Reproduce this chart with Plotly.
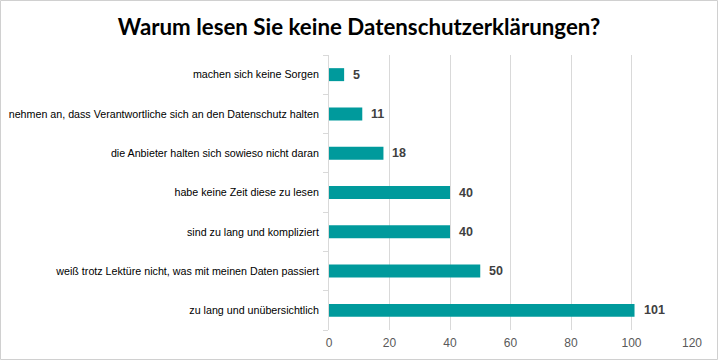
import plotly.graph_objects as go

categories = [
    "zu lang und unübersichtlich",
    "weiß trotz Lektüre nicht, was mit meinen Daten passiert",
    "sind zu lang und kompliziert",
    "habe keine Zeit diese zu lesen",
    "die Anbieter halten sich sowieso nicht daran",
    "nehmen an, dass Verantwortliche sich an den Datenschutz halten",
    "machen sich keine Sorgen",
]
values = [101, 50, 40, 40, 18, 11, 5]
x_ticks = [0, 20, 40, 60, 80, 100, 120]

positions = list(range(len(categories)))

L, R, T, B = 329, 26, 55, 30
W, H = 718, 360
PW, PH = W - L - R, H - T - B

fig = go.Figure()
fig.add_trace(go.Bar(
    x=values, y=positions, orientation="h",
    marker=dict(color="#009a9c", line=dict(width=0)),
    width=0.33,
    hoverinfo="skip",
))

for v, p in zip(values, positions):
    fig.add_annotation(
        x=v, y=p, xref="x", yref="y", text=f"<b>{v}</b>", showarrow=False,
        xanchor="left", yanchor="middle", xshift=7,
        font=dict(family="Liberation Sans, Arial", size=12.5, color="#404040"),
    )

fig.update_layout(
    width=W, height=H,
    margin=dict(l=L, r=R, t=T, b=B, autoexpand=False),
    paper_bgcolor="white", plot_bgcolor="white",
    showlegend=False,
    title=dict(
        text="<b>Warum lesen Sie keine Datenschutzerklärungen?</b>",
        x=0.5, xanchor="center", xref="container",
        yref="container", y=1 - 27 / H, yanchor="middle",
        font=dict(family="Lato, Open Sans", size=22.3, color="#000000"),
    ),
    xaxis=dict(
        range=[0, 120], tickvals=x_ticks, showgrid=True, gridcolor="#d9d9d9", gridwidth=1,
        zeroline=False, showline=False, ticks="", automargin=False, ticklabelstandoff=4,
        tickfont=dict(family="Liberation Sans, Arial", size=12, color="#595959"),
    ),
    yaxis=dict(
        range=[-0.5, 6.5], tickvals=positions, ticktext=categories, automargin=False,
        showgrid=False, zeroline=False, showline=True, linecolor="#d9d9d9", linewidth=1,
        ticks="", ticklen=0, ticklabelstandoff=7,
        minor=dict(ticks="outside", tick0=0.5, dtick=1, ticklen=5, tickcolor="#d9d9d9", showgrid=False),
        tickfont=dict(family="Liberation Sans, Arial", size=10.7, color="#000000"),
    ),
)
fig.add_shape(type="rect", xref="paper", yref="paper",
              x0=-(L - 0.5) / PW, x1=1 + (R - 0.5) / PW,
              y0=-(B - 0.5) / PH, y1=1 + (T - 0.5) / PH,
              line=dict(color="#d0d0d0", width=1), layer="above")

fig.write_html("out.html", config={"displayModeBar": False},
               post_script="document.body.style.margin='0';")
